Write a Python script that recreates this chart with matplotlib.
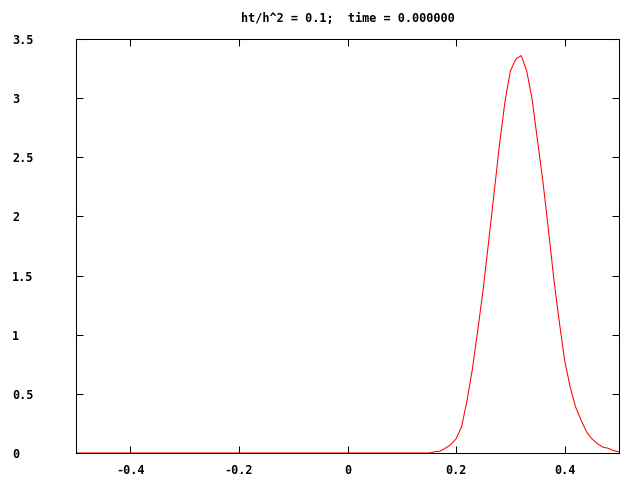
# -*- coding: utf-8 -*-

import numpy as np
import matplotlib
matplotlib.use("Agg")
import matplotlib.pyplot as plt

# Datos (malla de paso 0.01 en [-0.5, 0.5])
x_left = [-0.5, 0.14]           # tramo plano en cero
x_peak = [0.15, 0.16, 0.17, 0.18, 0.19, 0.20, 0.21, 0.22, 0.23, 0.24,
          0.25, 0.26, 0.27, 0.28, 0.29, 0.30, 0.31, 0.32, 0.33, 0.34,
          0.35, 0.36, 0.37, 0.38, 0.39, 0.40, 0.41, 0.42, 0.43, 0.44,
          0.45, 0.46, 0.47, 0.48, 0.49, 0.50]
u_left = [0.0, 0.0]
u_peak = [0.0, 0.01, 0.015, 0.04, 0.07, 0.12, 0.22, 0.44, 0.71, 1.04,
          1.39, 1.79, 2.20, 2.61, 2.97, 3.23, 3.33, 3.36, 3.23, 2.99,
          2.64, 2.29, 1.89, 1.47, 1.11, 0.78, 0.56, 0.39, 0.28, 0.18,
          0.12, 0.08, 0.05, 0.04, 0.02, 0.01]

x_ticks = [-0.4, -0.2, 0, 0.2, 0.4]
x_labels = ["-0.4", "-0.2", "0", "0.2", "0.4"]
y_ticks = [0, 0.5, 1, 1.5, 2, 2.5, 3, 3.5]
y_labels = ["0", "0.5", "1", "1.5", "2", "2.5", "3", "3.5"]

title = "ht/h^2 = 0.1;  time = 0.000000"

plt.rcParams['font.family'] = ['DejaVu Sans Mono', 'DejaVu Sans']
plt.rcParams['axes.unicode_minus'] = False

fig = plt.figure(figsize=(6.4, 4.8), dpi=100)
ax = fig.add_axes([76 / 640, 27 / 480, 543 / 640, 414 / 480])

ax.plot(x_left + x_peak, u_left + u_peak, color='red', lw=0.75,
        solid_joinstyle='miter')

ax.set_xlim(-0.5, 0.5)
ax.set_ylim(0, 3.5)

ax.set_xticks(x_ticks)
ax.set_xticklabels(x_labels, fontsize=8.5, fontweight='bold')
ax.set_yticks(y_ticks)
ax.set_yticklabels(y_labels, fontsize=8.5, fontweight='bold', ha='left')

ax.tick_params(direction='in', length=5, width=0.75, top=True, right=True)
ax.tick_params(axis='y', pad=46)   # etiquetas alineadas a la izquierda, x~12 px
ax.tick_params(axis='x', pad=8)

for s in ax.spines.values():
    s.set_linewidth(0.75)

fig.text(348 / 640, 1 - 19 / 480, title, ha='center', va='center',
         fontsize=8.5, fontweight='bold')

fig.savefig("out.png", dpi=100)
